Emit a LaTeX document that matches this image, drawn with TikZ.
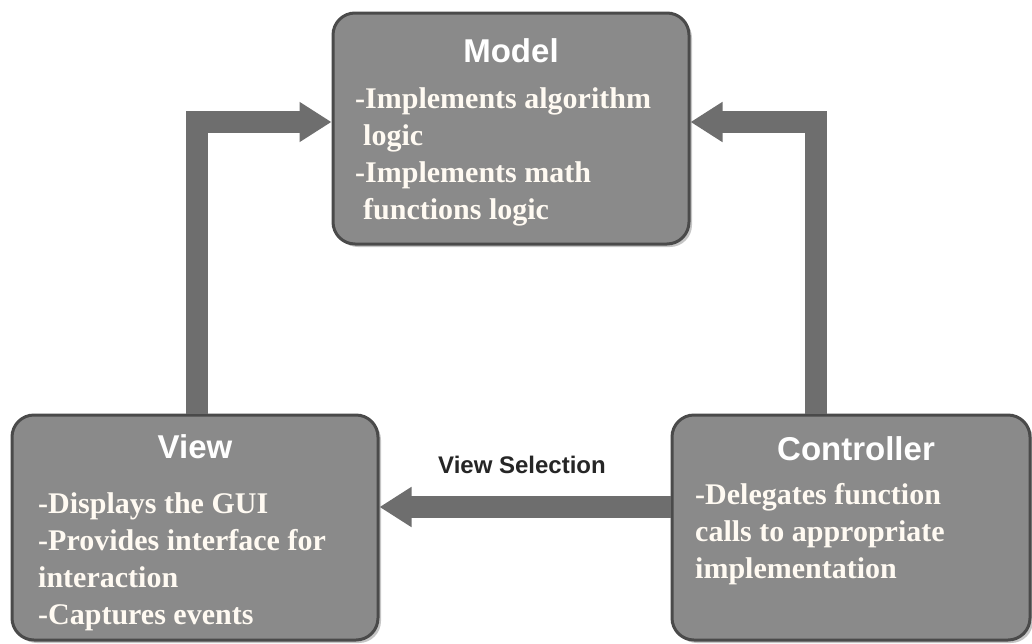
\documentclass[tikz,border=0pt]{standalone}
\usepackage{fontspec}
\setmainfont{Liberation Serif}
\newfontfamily\headfont{Liberation Sans}
\usetikzlibrary{arrows.meta,shadows,calc}
\definecolor{boxfill}{HTML}{8A8A8A}
\definecolor{boxborder}{HTML}{4A4A4A}
\definecolor{arrowcol}{HTML}{6E6E6E}
\definecolor{bodytext}{HTML}{FFFAF2}
\begin{document}
\begin{tikzpicture}[x=1pt,y=-1pt,
  box/.style={draw=boxborder, line width=3pt, fill=boxfill, rounded corners=22pt,
    drop shadow={shadow xshift=3pt, shadow yshift=-3pt, opacity=0.45}},
  title/.style={font=\headfont\bfseries\fontsize{33}{40}\selectfont, text=white, inner sep=0pt, anchor=base},
  body/.style={font=\bfseries\fontsize{30}{37}\selectfont, text=bodytext, align=left, inner sep=0pt, anchor=north west},
  arr/.style={draw=arrowcol, line width=22pt, line join=miter, -{Triangle[length=32pt,width=38pt]}},
  lbl/.style={font=\headfont\bfseries\fontsize{24}{28}\selectfont, text=black!85, inner sep=0pt, anchor=base}
]
\useasboundingbox[fill=white] (0,0) rectangle (1032,643);

% box frames
\node[box, minimum width=356pt, minimum height=231pt] (model) at (511,128.5) {};
\node[box, minimum width=366pt, minimum height=225pt] (view) at (195,527.5) {};
\node[box, minimum width=358pt, minimum height=225pt] (ctrl) at (851,527.5) {};

% routing coordinates
\coordinate (lc) at (197,122);
\coordinate (rc) at (816,122);
\coordinate (vs) at (0,507);

% connectors
\draw[arr] (lc |- view.north) -- (lc) -- (lc -| model.west);
\draw[arr] (rc |- ctrl.north) -- (rc) -- (rc -| model.east);
\draw[arr] (ctrl.west |- vs) -- (view.east |- vs);

\node[lbl] (vslabel) at (522,473) {View Selection};

% titles
\node[title] (model-t) at (511,62) {Model};
\node[title] (view-t) at (195,458) {View};
\node[title] (ctrl-t) at (856,460) {Controller};

% bodies
\node[body] (model-b) at (355,87) {-Implements algorithm\\\hspace*{8pt}logic\\-Implements math\\\hspace*{8pt}functions logic};
\node[body] (view-b) at (38,492) {-Displays the GUI\\-Provides interface for\\interaction\\-Captures events};
\node[body] (ctrl-b) at (695,483) {-Delegates function\\calls to appropriate\\implementation};
\end{tikzpicture}
\end{document}
